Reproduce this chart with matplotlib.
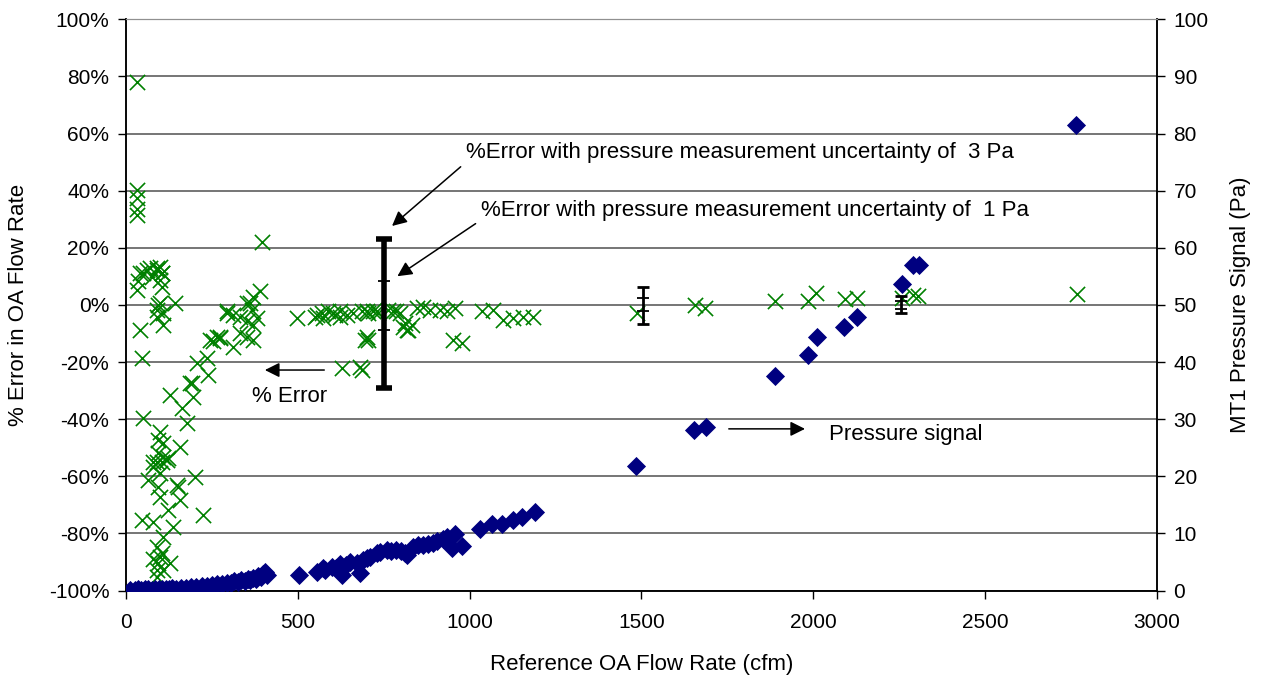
#!/usr/bin/env python

# OA flow rate error vs reference flow, with MT1 pressure signal on a second axis

import matplotlib
matplotlib.use("Agg")
import matplotlib.pyplot as plt

plt.rcParams["font.family"] = ["Liberation Sans", "DejaVu Sans"]

# % error in OA flow rate (left axis) vs reference flow (cfm)
err_cfm = [31, 31, 31, 31, 31, 395, 31, 35, 50, 70, 89, 104, 99, 104, 75,
           99, 143, 390, 370, 351,
           41, 60, 89, 104, 99, 94, 89, 109, 89, 109, 41, 46,
           361, 293, 312, 332, 351, 370, 351, 312, 273, 244, 264, 332, 370, 380, 366,
           206, 235,
           497, 555, 574, 603, 623, 661, 700, 729, 700, 695, 628, 681,
           128, 162, 177, 196, 186, 240, 254, 273, 293,
           50, 99, 109, 94, 104, 118, 157, 79, 79, 99, 201, 65, 94, 152, 99, 157,
           123, 225, 46, 79, 138, 109, 89, 99, 94, 89, 109, 128, 89, 104, 79,
           94, 191, 109, 89, 123, 148,
           550, 569, 589, 608, 623, 642, 686, 705, 720, 734, 705, 686,
           778, 797, 812, 817, 763, 787, 807, 822, 831, 846, 865, 885, 914, 933,
           957, 952, 977, 1035, 1069, 1098, 1127, 1156, 1185,
           1486, 1656, 1685, 1888, 1985, 2009, 2092, 2126, 2257, 2291, 2305, 2768]
err_pct = [77.9, 40.3, 37.4, 33.5, 31.5, 22.0, 5.3, 8.2, 11.2, 13.0, 13.0, 11.2, 13.4, 6.4, 9.9,
           0.7, 0.7, 4.7, 2.9, 0.7,
           11.1, 12.3, 12.3, 11.1, 8.8, 0.0, -1.8, -2.9, -4.1, -7.0, -8.8, -18.7,
           0.6, -2.3, -3.5, -4.1, -5.8, -7.0, -11.1, -14.6, -11.7, -12.3, -11.1, -9.9, -12.3, -4.7, -1.8,
           -20.4, -18.7,
           -4.7, -3.5, -4.7, -2.9, -4.1, -2.9, -2.3, -2.3, -11.1, -12.3, -22.2, -21.6,
           -31.5, -36.2, -41.4, -32.1, -27.4, -24.5, -12.8, -11.1, -2.9,
           -39.7, -44.4, -48.4, -51.9, -54.9, -54.3, -49.6, -54.9, -56.6, -58.9, -60.1, -61.3, -63.6, -63.6, -67.1, -68.3,
           -71.8, -73.6, -75.3, -75.9, -77.6, -81.1, -84.6, -88.2, -90.5, -92.8, -92.8, -90.5, -95.2, -87.0, -88.8,
           -47.3, -27.4, -53.1, -54.9, -53.7, -63.0,
           -4.1, -2.9, -2.3, -3.5, -2.3, -3.5, -2.3, -2.9, -2.3, -2.9, -12.3, -22.8,
           -2.3, -2.9, -6.4, -8.8, -1.8, -2.3, -7.6, -8.8, -7.0, -1.2, -0.6, -1.8, -1.8, -2.3,
           -1.2, -12.3, -13.4, -2.3, -1.8, -5.3, -4.7, -4.1, -4.1,
           -2.9, 0.0, -1.2, 1.5, 1.5, 4.1, 2.0, 2.3, 2.3, 3.5, 3.2, 3.7]

# MT1 pressure signal (Pa, right axis) vs reference flow (cfm)
pa_cfm = [12, 25, 35, 45, 55, 65, 75, 85, 95, 105, 115, 125, 135, 145, 160, 175, 190,
          205, 220, 235, 250, 265, 280, 295, 305, 315, 325, 335, 345, 355, 362, 370,
          378, 385, 392, 400, 405, 410,
          504, 555, 573, 580, 598, 610, 623, 628, 640, 652, 671, 681, 690, 700, 710,
          729, 740, 759, 770, 787, 800, 812, 817, 835, 850, 864, 880, 893, 905, 922,
          935, 948, 957, 977, 1030, 1064, 1093, 1126, 1151, 1190,
          1484, 1653, 1688, 1888, 1984, 2011, 2089, 2127, 2258, 2290, 2307, 2764]
pa_val = [0.1, 0.1, 0.2, 0.1, 0.2, 0.2, 0.1, 0.3, 0.2, 0.3, 0.2, 0.3, 0.4, 0.3, 0.4, 0.5, 0.6,
          0.7, 0.8, 0.8, 1.0, 1.1, 1.2, 1.4, 1.3, 1.6, 1.5, 1.8, 1.7, 2.0, 1.9, 2.2,
          2.1, 2.5, 2.3, 2.9, 3.3, 2.7,
          2.7, 3.3, 3.9, 3.6, 4.2, 4.0, 4.6, 2.7, 4.5, 5.0, 4.8, 3.1, 5.4, 5.7, 5.9,
          6.6, 6.8, 7.1, 7.0, 7.1, 6.9, 6.6, 6.2, 7.7, 7.9, 8.0, 8.2, 8.3, 8.6, 9.0,
          9.4, 7.4, 9.9, 7.8, 10.8, 11.7, 11.7, 12.3, 12.9, 13.8,
          21.8, 28.1, 28.6, 37.6, 41.2, 44.4, 46.1, 47.9, 53.7, 57.0, 57.0, 81.5]

# error bars: 3 Pa uncertainty (full bar) and 1 Pa uncertainty (inner ticks)
bar_cfm = [752, 1505, 2255]
bar3_lo = [-29.0, -6.8, -3.0]
bar3_hi = [23.0, 6.4, 3.2]
bar1_lo = [-8.8, -2.1, -1.5]
bar1_hi = [8.2, 2.3, 1.2]
bar_lw = [4.0, 2.0, 2.0]

x_ticks = [0, 500, 1000, 1500, 2000, 2500, 3000]
pct_ticks = list(range(-100, 101, 20))
pa_ticks = list(range(0, 101, 10))

fig = plt.figure(figsize=(12.64, 6.79), dpi=100)
ax = fig.add_axes([0.0997, 0.1303, 0.8156, 0.8413])
ax2 = ax.twinx()

ax.set_xlim(0, 3000)
ax.set_ylim(-100, 100)
ax2.set_ylim(0, 100)

for t in pct_ticks:
    ax.axhline(t, color="#505050", lw=1.1, zorder=0)

ax.scatter(err_cfm, err_pct, marker="x", s=120, color="#008000", linewidths=1.2, zorder=2)
ax2.scatter(pa_cfm, pa_val, marker="D", s=95, color="#000080", linewidths=0, zorder=3)

for i in range(len(bar_cfm)):
    lo = bar3_lo[i]
    hi = bar3_hi[i]
    mid = (lo + hi) / 2.0
    cap = 6 if i == 0 else 4.5
    ax.errorbar([bar_cfm[i]], [mid], yerr=[[mid - lo], [hi - mid]], fmt="none",
                ecolor="black", elinewidth=bar_lw[i], capsize=cap, capthick=bar_lw[i], zorder=4)
    ax.plot([bar_cfm[i], bar_cfm[i]], [bar1_lo[i], bar1_hi[i]], linestyle="none",
            marker="_", ms=9, mew=1.3, color="black", zorder=4)

ax.set_xticks(x_ticks)
ax.set_yticks(pct_ticks)
ax.set_yticklabels(["{}%".format(t) for t in pct_ticks])
ax2.set_yticks(pa_ticks)
ax.tick_params(axis="x", labelsize=15, length=6, width=1, direction="out", pad=10)
ax.tick_params(axis="y", labelsize=15, length=6, width=1, direction="out", pad=6)
ax2.tick_params(labelsize=15, length=6, width=1, direction="out", pad=6)

for a in (ax, ax2):
    a.spines["top"].set_color("#909090")
    a.spines["left"].set_linewidth(1.1)
    a.spines["right"].set_linewidth(1.1)
    a.spines["bottom"].set_linewidth(1.1)

ax.set_xlabel("Reference OA Flow Rate (cfm)", fontsize=16, labelpad=16)
ax.set_ylabel("% Error in OA Flow Rate", fontsize=16, labelpad=14)
ax2.set_ylabel("MT1 Pressure Signal (Pa)", fontsize=16, labelpad=15)

# annotations
arrow_kw = dict(arrowstyle="-|>", color="black", lw=1.1, mutation_scale=22)
ax.annotate("", xy=(768, 27), xytext=(980, 49), arrowprops=arrow_kw, zorder=5)
ax.text(989, 53.2, "%Error with pressure measurement uncertainty of  3 Pa",
        fontsize=16, ha="left", va="center")
ax.annotate("", xy=(783, 9.5), xytext=(1024, 29), arrowprops=arrow_kw, zorder=5)
ax.text(1033, 32.9, "%Error with pressure measurement uncertainty of  1 Pa",
        fontsize=16, ha="left", va="center")
ax.annotate("", xy=(396, -22.8), xytext=(585, -22.8), arrowprops=arrow_kw, zorder=5)
ax.text(367, -31.9, "% Error", fontsize=16, ha="left", va="center")
ax.annotate("", xy=(1984, -43.4), xytext=(1746, -43.4), arrowprops=arrow_kw, zorder=5)
ax.text(2045, -45.2, "Pressure signal", fontsize=16, ha="left", va="center")

fig.savefig("out.png", dpi=100)
